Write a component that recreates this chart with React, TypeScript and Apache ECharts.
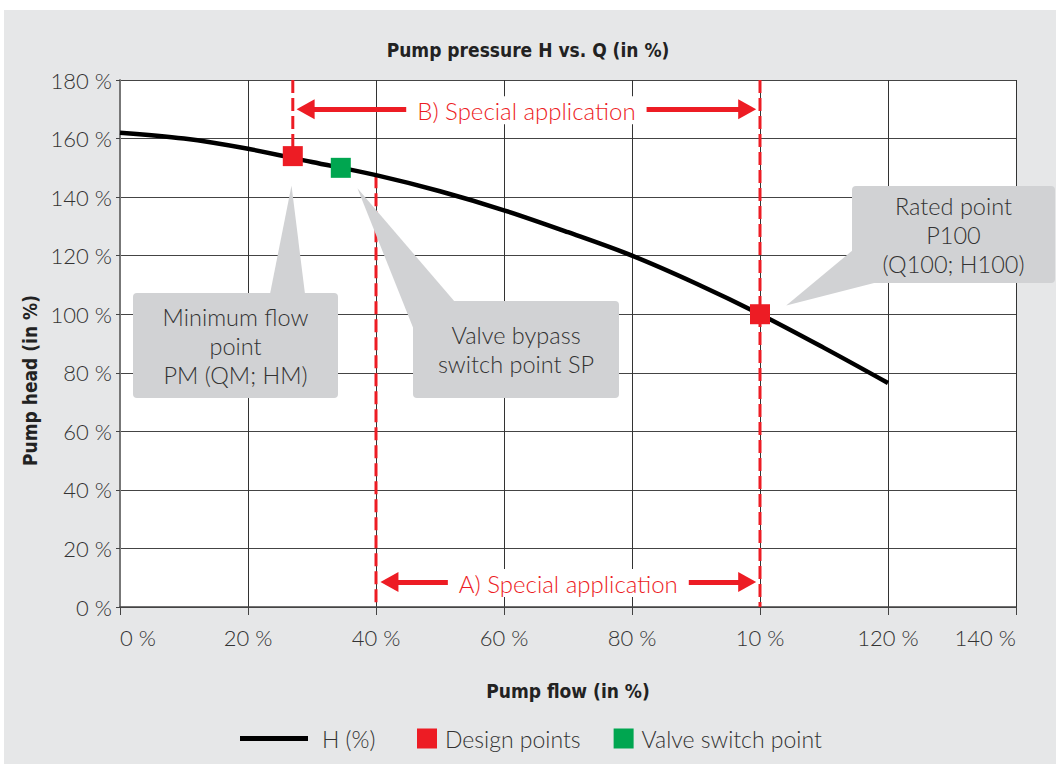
import React, { useEffect, useRef } from "react";
import * as echarts from "echarts";

// ---- data ----
const flowPct = [0, 10, 20, 30, 40, 50, 60, 70, 80, 90, 100, 110, 120];
const headPct = [162, 160, 156.5, 152, 147.5, 142, 135.5, 128, 120, 110.5, 100, 88.5, 76.5];
const designPoints = [
  [27, 154],
  [100, 100],
];
const valvePoints = [[34.5, 150]];
const xTickLabels = ["0 %", "20 %", "40 %", "60 %", "80 %", "10 %", "120 %", "140 %"];
const dashMinFlow = [
  [27, 180],
  [27, 154],
];
const dashSwitch = [
  [40, 147.5],
  [40, 0],
];
const dashRated = [
  [100, 180],
  [100, 0],
];
const arrowB = [
  [29, 170],
  [98, 170],
];
const arrowA = [
  [42.1, 8.5],
  [98, 8.5],
];
const arrowLabels = ["B) Special application", "A) Special application"];
const calloutTexts = [
  "Minimum flow\npoint\nPM (QM; HM)",
  "Valve bypass\nswitch point SP",
  "Rated point\nP100\n(Q100; H100)",
];
const calloutTips = [
  [26.8, 144],
  [37.1, 143],
  [104.1, 103],
];

const RED = "#ED1C24";
const GREEN = "#00A650";
const FONT = "Lato, 'Open Sans', sans-serif";
const COND = "'Liberation Sans Narrow', 'DejaVu Sans Condensed', sans-serif";

export default function App() {
  const ref = useRef<HTMLDivElement>(null);
  useEffect(() => {
    if (!ref.current) return;
    const chart = echarts.init(ref.current, undefined, { renderer: "svg" });
    const dashStyle = { color: RED, width: 3, type: [13, 5] as any };
    const option: any = {
      animation: false,
      backgroundColor: "transparent",
      title: {
        text: "Pump pressure H vs. Q (in %)",
        left: "center",
        top: 35,
        textStyle: { fontFamily: COND, fontWeight: "bold", fontSize: 19, color: "#222" },
      },
      grid: {
        left: 120,
        right: 40,
        top: 80,
        bottom: 157,
        show: true,
        backgroundColor: "#fff",
        borderWidth: 0,
      },
      legend: [
        {
          data: [{ name: "H (%)", icon: "rect" }],
          left: 235,
          top: 722,
          itemWidth: 68,
          itemHeight: 5,
          selectedMode: false,
          textStyle: { fontFamily: FONT, fontWeight: 300, fontSize: 23, color: "#333", padding: [0, 0, 0, 9] },
        },
        {
          data: [
            { name: "Design points", icon: "rect" },
            { name: "Valve switch point", icon: "rect" },
          ],
          left: 412,
          top: 722,
          itemWidth: 20,
          itemHeight: 20,
          itemGap: 33,
          selectedMode: false,
          textStyle: { fontFamily: FONT, fontWeight: 300, fontSize: 23, color: "#333", padding: [0, 0, 0, 3] },
        },
      ],
      xAxis: {
        type: "value",
        min: 0,
        max: 140,
        interval: 20,
        name: "Pump flow (in %)",
        nameLocation: "middle",
        nameGap: 74,
        nameTextStyle: { fontFamily: COND, fontWeight: "bold", fontSize: 19, color: "#222" },
        axisLine: { show: true, onZero: false, lineStyle: { color: "#444", width: 1.5 } },
        axisTick: { show: true, length: 8, lineStyle: { color: "#444" } },
        axisLabel: {
          margin: 19,
          fontFamily: FONT,
          fontWeight: 300,
          fontSize: 22,
          color: "#333",
          alignMinLabel: "left",
          alignMaxLabel: "right",
          formatter: (v: number) => xTickLabels[Math.round(v / 20)],
        },
        splitLine: { show: true, lineStyle: { color: "#333", width: 1 } },
      },
      yAxis: {
        type: "value",
        min: 0,
        max: 180,
        interval: 20,
        name: "Pump head (in %)",
        nameLocation: "middle",
        nameGap: 80,
        nameTextStyle: {
          fontFamily: COND,
          fontWeight: "bold",
          fontSize: 19,
          color: "#222",
          padding: [0, 74, 0, 0],
        },
        axisLine: { show: true, lineStyle: { color: "#777", width: 2 } },
        axisTick: { show: true, length: 4, lineStyle: { color: "#444" } },
        axisLabel: {
          margin: 8,
          fontFamily: FONT,
          fontWeight: 300,
          fontSize: 22,
          color: "#333",
          formatter: "{value} %",
        },
        splitLine: { show: true, lineStyle: { color: "#444", width: 1 } },
      },
      series: [
        {
          name: "dash-minflow",
          type: "line",
          data: dashMinFlow,
          symbol: "none",
          lineStyle: dashStyle,
          z: 3,
          silent: true,
        },
        {
          name: "dash-switch",
          type: "line",
          data: dashSwitch,
          symbol: "none",
          lineStyle: dashStyle,
          z: 3,
          silent: true,
        },
        {
          name: "dash-rated",
          type: "line",
          data: dashRated,
          symbol: "none",
          lineStyle: dashStyle,
          z: 3,
          silent: true,
        },
        {
          name: "H (%)",
          type: "line",
          data: flowPct.map((x, i) => [x, headPct[i]]),
          smooth: 0.35,
          symbol: "none",
          color: "#000",
          lineStyle: { color: "#000", width: 4.5 },
          z: 4,
          markLine: {
            silent: true,
            symbol: ["triangle", "triangle"],
            symbolSize: [20, 18],
            lineStyle: { color: RED, width: 5, type: "solid" },
            label: {
              show: true,
              position: "middle",
              color: RED,
              fontFamily: FONT,
              fontWeight: 300,
              fontSize: 24,
              backgroundColor: "#fff",
              padding: [2, 11],
              distance: [0, -15],
            },
            data: [
              [
                { coord: arrowB[0], name: arrowLabels[0] },
                { coord: arrowB[1] },
              ],
              [
                { coord: arrowA[0], name: arrowLabels[1] },
                { coord: arrowA[1] },
              ],
            ],
          },
        },
        {
          name: "Design points",
          type: "scatter",
          data: designPoints,
          symbol: "rect",
          symbolSize: 20,
          color: RED,
          itemStyle: { color: RED, opacity: 1 },
          z: 6,
        },
        {
          name: "Valve switch point",
          type: "scatter",
          data: valvePoints,
          symbol: "rect",
          symbolSize: 20,
          color: GREEN,
          itemStyle: { color: GREEN, opacity: 1 },
          z: 6,
        },
      ],
    };
    option.series[3].markLine.label.formatter = (p: any) => p.name;
    chart.setOption(option);

    const tip = calloutTips.map((t) => chart.convertToPixel({ gridIndex: 0 }, t) as number[]);
    const boxFill = "#D1D2D4";
    const textStyle = {
      fill: "#333",
      fontFamily: FONT,
      fontWeight: 300,
      fontSize: 23.5,
      lineHeight: 29,
      align: "center",
      verticalAlign: "middle",
    };
    const boxes = [
      { x: 133, y: 293, w: 205, h: 105, base: [[270, 294], [305, 294]] },
      { x: 413, y: 301, w: 206, h: 97, base: [[414, 330], [455, 302]] },
      { x: 852, y: 186, w: 203, h: 97, base: [[853, 250], [878, 282]] },
    ];
    const graphics: any[] = [];
    boxes.forEach((b, i) => {
      graphics.push({
        type: "polygon",
        z: 100,
        silent: true,
        shape: { points: [b.base[0], b.base[1], tip[i]] },
        style: { fill: boxFill },
      });
      graphics.push({
        type: "rect",
        z: 100,
        silent: true,
        shape: { x: b.x, y: b.y, width: b.w, height: b.h, r: 4 },
        style: { fill: boxFill },
      });
      graphics.push({
        type: "text",
        z: 101,
        silent: true,
        x: b.x + b.w / 2,
        y: b.y + b.h / 2,
        style: { ...textStyle, text: calloutTexts[i] },
      });
    });
    chart.setOption({ graphic: graphics });

    return () => chart.dispose();
  }, []);

  return (
    <div style={{ position: "absolute", left: 0, top: 0, width: 1056, height: 764, background: "#fff" }}>
      <div
        style={{ position: "absolute", left: 4, top: 10, width: 1052, height: 754, background: "#E6E7E8" }}
      />
      <div ref={ref} style={{ position: "absolute", left: 0, top: 0, width: 1056, height: 764 }} />
    </div>
  );
}
